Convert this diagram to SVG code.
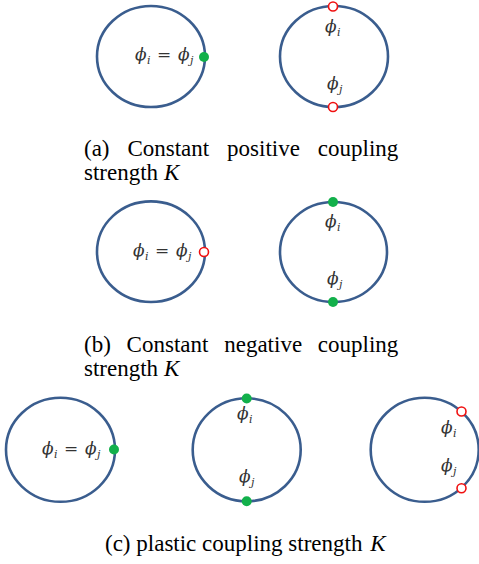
<svg xmlns="http://www.w3.org/2000/svg" width="479" height="564" viewBox="0 0 479 564">
<style>
.ring{fill:none;stroke:#3a5d8e;stroke-width:2.6}
.g{fill:#12b04b;stroke:none}
.r{fill:#fff;stroke:#f01010;stroke-width:1.6}
.m{font-family:'DejaVu Serif',serif;font-style:italic;font-size:17px;fill:#333}
.s{font-family:'DejaVu Serif',serif;font-style:italic;font-size:11px;fill:#333}
.eq{font-family:'DejaVu Serif',serif;font-size:17px;fill:#333}
.cap{font-family:'Liberation Serif','Times New Roman',serif;font-size:23px;fill:#000}
.k{font-style:italic}
</style>
<rect width="479" height="564" fill="#fff"/>

<g id="a-left">
<ellipse class="ring" cx="151" cy="56.5" rx="54" ry="50.5"/>
<text class="m" x="135" y="60">ϕ</text><text class="s" x="147" y="64">i</text>
<text class="eq" x="157" y="60">=</text>
<text class="m" x="178" y="60">ϕ</text><text class="s" x="190" y="64">j</text>
<circle class="g" cx="204" cy="57" r="5"/>
</g>

<g id="a-right">
<ellipse class="ring" cx="334" cy="56.5" rx="54" ry="50.5"/>
<text class="m" x="325" y="32">ϕ</text><text class="s" x="337" y="36">i</text>
<text class="m" x="327" y="89">ϕ</text><text class="s" x="339" y="93">j</text>
<circle class="r" cx="333" cy="6.5" r="4.5"/>
<circle class="r" cx="333" cy="107" r="4.5"/>
</g>

<g id="caption-a" class="cap">
<text x="84" y="156">(a)</text>
<text x="127.4" y="156">Constant</text>
<text x="227.1" y="156">positive</text>
<text x="398.3" y="156" text-anchor="end">coupling</text>
<text x="84" y="180">strength</text>
<text class="k" x="164" y="180">K</text>
</g>

<g id="b-left">
<ellipse class="ring" cx="151" cy="251.7" rx="54" ry="50.3"/>
<text class="m" x="133" y="256">ϕ</text><text class="s" x="145" y="260">i</text>
<text class="eq" x="155" y="256">=</text>
<text class="m" x="176" y="256">ϕ</text><text class="s" x="188" y="260">j</text>
<circle class="r" cx="204" cy="252" r="4.5"/>
</g>

<g id="b-right">
<ellipse class="ring" cx="333.5" cy="252" rx="53.5" ry="50"/>
<text class="m" x="325" y="227">ϕ</text><text class="s" x="337" y="231">i</text>
<text class="m" x="327" y="284">ϕ</text><text class="s" x="339" y="288">j</text>
<circle class="g" cx="333" cy="202" r="5"/>
<circle class="g" cx="333" cy="302" r="5"/>
</g>

<g id="caption-b" class="cap">
<text x="84" y="352">(b)</text>
<text x="126.6" y="352">Constant</text>
<text x="224.2" y="352">negative</text>
<text x="398.3" y="352" text-anchor="end">coupling</text>
<text x="84" y="376">strength</text>
<text class="k" x="164" y="376">K</text>
</g>

<g id="c-left">
<ellipse class="ring" cx="60.5" cy="449.8" rx="54.5" ry="52"/>
<text class="m" x="42" y="454">ϕ</text><text class="s" x="54" y="458">i</text>
<text class="eq" x="64" y="454">=</text>
<text class="m" x="85" y="454">ϕ</text><text class="s" x="97" y="458">j</text>
<circle class="g" cx="114" cy="449.5" r="5"/>
</g>

<g id="c-middle">
<ellipse class="ring" cx="246.7" cy="449.8" rx="54" ry="51.5"/>
<text class="m" x="237" y="419">ϕ</text><text class="s" x="249" y="423">i</text>
<text class="m" x="239" y="482">ϕ</text><text class="s" x="251" y="486">j</text>
<circle class="g" cx="246.7" cy="398.5" r="5"/>
<circle class="g" cx="246.7" cy="501.3" r="5"/>
</g>

<g id="c-right">
<ellipse class="ring" cx="424.7" cy="449.8" rx="54" ry="52"/>
<text class="m" x="441" y="433">ϕ</text><text class="s" x="453" y="437">i</text>
<text class="m" x="441" y="471">ϕ</text><text class="s" x="453" y="475">j</text>
<circle class="r" cx="461.5" cy="411.5" r="4.5"/>
<circle class="r" cx="461.5" cy="488.3" r="4.5"/>
</g>

<g id="caption-c" class="cap">
<text x="105" y="551">(c) plastic coupling strength <tspan class="k" dx="2">K</tspan></text>
</g>
</svg>
